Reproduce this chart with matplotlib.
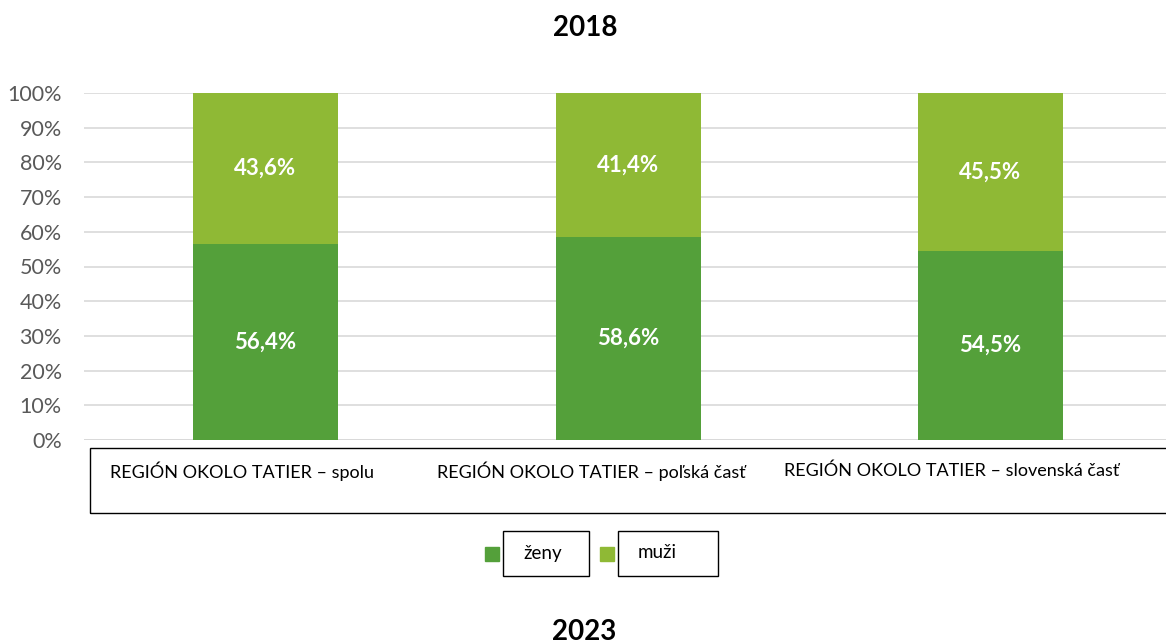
import matplotlib
matplotlib.use("Agg")
import matplotlib.pyplot as plt
from matplotlib.patches import Rectangle

categories = ["REGIÓN OKOLO TATIER – spolu",
              "REGIÓN OKOLO TATIER – poľská časť",
              "REGIÓN OKOLO TATIER – slovenská časť"]
zeny = [56.4, 58.6, 54.5]
muzi = [43.6, 41.4, 45.5]
series_names = ["ženy", "muži"]
title_top = "2018"
title_bottom = "2023"

c_dark = "#54A03A"
c_light = "#8FB935"
FONT = ["Lato", "DejaVu Sans"]
plt.rcParams["font.family"] = FONT

W, H = 1166, 644
fig = plt.figure(figsize=(W / 100, H / 100), dpi=100)

def fx(px):
    return px / W

def fy(py):
    return 1 - py / H

ax_left, ax_right, ax_top, ax_bot = 84, 1166, 93, 440
ax = fig.add_axes([fx(ax_left), fy(ax_bot), fx(ax_right - ax_left), fy(ax_top) - fy(ax_bot)])

step_px = 362.5
c0_px = 265.5
ax.set_xlim(-(c0_px - ax_left) / step_px, (ax_right - c0_px) / step_px)
ax.set_ylim(0, 100)

x = list(range(len(categories)))
ax.bar(x, zeny, width=0.4, color=c_dark, zorder=3)
ax.bar(x, muzi, width=0.4, bottom=zeny, color=c_light, zorder=3)

for i in x:
    ax.text(i, zeny[i] / 2, f"{zeny[i]:.1f}%".replace(".", ","), ha="center", va="center",
            color="white", fontsize=16, fontweight="bold", zorder=4)
    ax.text(i, zeny[i] + muzi[i] / 2, f"{muzi[i]:.1f}%".replace(".", ","), ha="center", va="center",
            color="white", fontsize=16, fontweight="bold", zorder=4)

ax.set_yticks(range(0, 101, 10))
ax.set_yticklabels([f"{v}%" for v in range(0, 101, 10)])
ax.tick_params(axis="y", length=0, labelsize=15.5, labelcolor="#595959", pad=16)
ax.set_xticks([])
ax.grid(axis="y", color="#D9D9D9", linewidth=1.2, zorder=0)
for s in ["top", "right", "left", "bottom"]:
    ax.spines[s].set_visible(False)
ax.axhline(0, color="#D9D9D9", linewidth=2.0, zorder=2)

# category label box
fig.patches.append(Rectangle((fx(90), fy(513)), fx(1166 - 90) + 0.01, fy(448) - fy(513),
                             transform=fig.transFigure, fill=False, edgecolor="black",
                             linewidth=1.0))
label_x = [110, 437, 784]
for lx, lab in zip(label_x, categories):
    fig.text(fx(lx), fy(471), lab, ha="left", va="center", fontsize=13, color="black")

# legend
legend_items = [(c_dark, 485, 503, 589), (c_light, 600, 618, 718)]
for (col, sqx, bx0, bx1), name in zip(legend_items, series_names):
    fig.patches.append(Rectangle((fx(sqx), fy(561)), fx(14), fy(547) - fy(561),
                                 transform=fig.transFigure, color=col))
    fig.patches.append(Rectangle((fx(bx0), fy(576)), fx(bx1 - bx0), fy(531) - fy(576),
                                 transform=fig.transFigure, fill=False, edgecolor="black",
                                 linewidth=1.0))
    fig.text(fx(bx0 + 20), fy(553), name, ha="left", va="center", fontsize=13.5, color="black")

fig.text(fx(585), fy(28), title_top, ha="center", va="center", fontsize=20, fontweight="bold")
fig.text(fx(584), fy(632), title_bottom, ha="center", va="center", fontsize=20, fontweight="bold")

fig.savefig("out.png", dpi=100, facecolor="white")
